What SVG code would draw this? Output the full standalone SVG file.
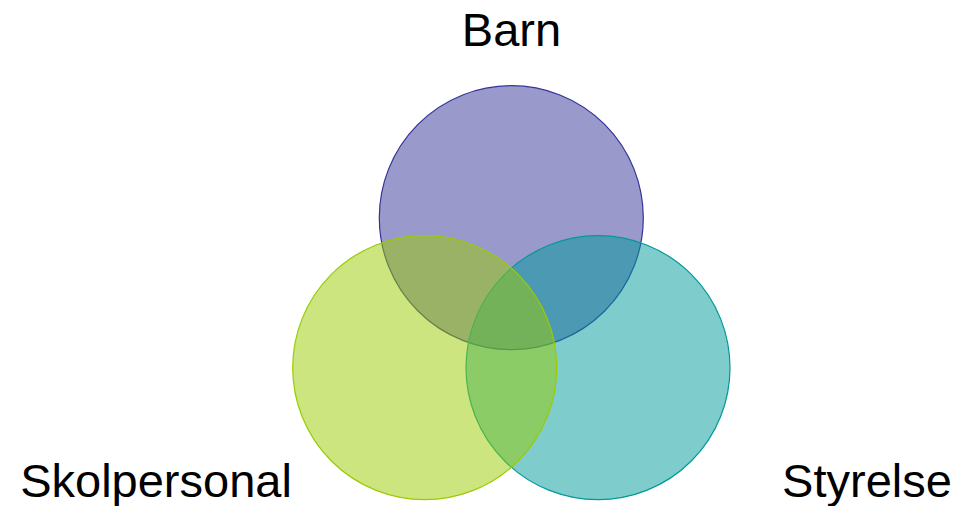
<svg xmlns="http://www.w3.org/2000/svg" width="971" height="506" viewBox="0 0 971 506">
  <style>
    .lbl { font-family: "Liberation Sans", Arial, sans-serif; font-size: 47px; fill: #000000; text-anchor: middle; }
    .c { fill-opacity: 0.5; stroke-width: 1.2; }
  </style>
  <rect x="0" y="0" width="971" height="506" fill="#ffffff"/>
  <g id="barn">
    <circle class="c" cx="511.3" cy="217.7" r="132" fill="#333399" stroke="#333399"/>
    <text class="lbl" x="511.5" y="46">Barn</text>
  </g>
  <g id="styrelse">
    <circle class="c" cx="598" cy="367.7" r="132" fill="#009999" stroke="#009999"/>
    <text class="lbl" x="867" y="497">Styrelse</text>
  </g>
  <g id="skolpersonal">
    <circle class="c" cx="424.7" cy="367.7" r="132" fill="#99CC00" stroke="#99CC00"/>
    <text class="lbl" x="156" y="497">Skolpersonal</text>
  </g>
  <g id="connectors"></g>
</svg>
